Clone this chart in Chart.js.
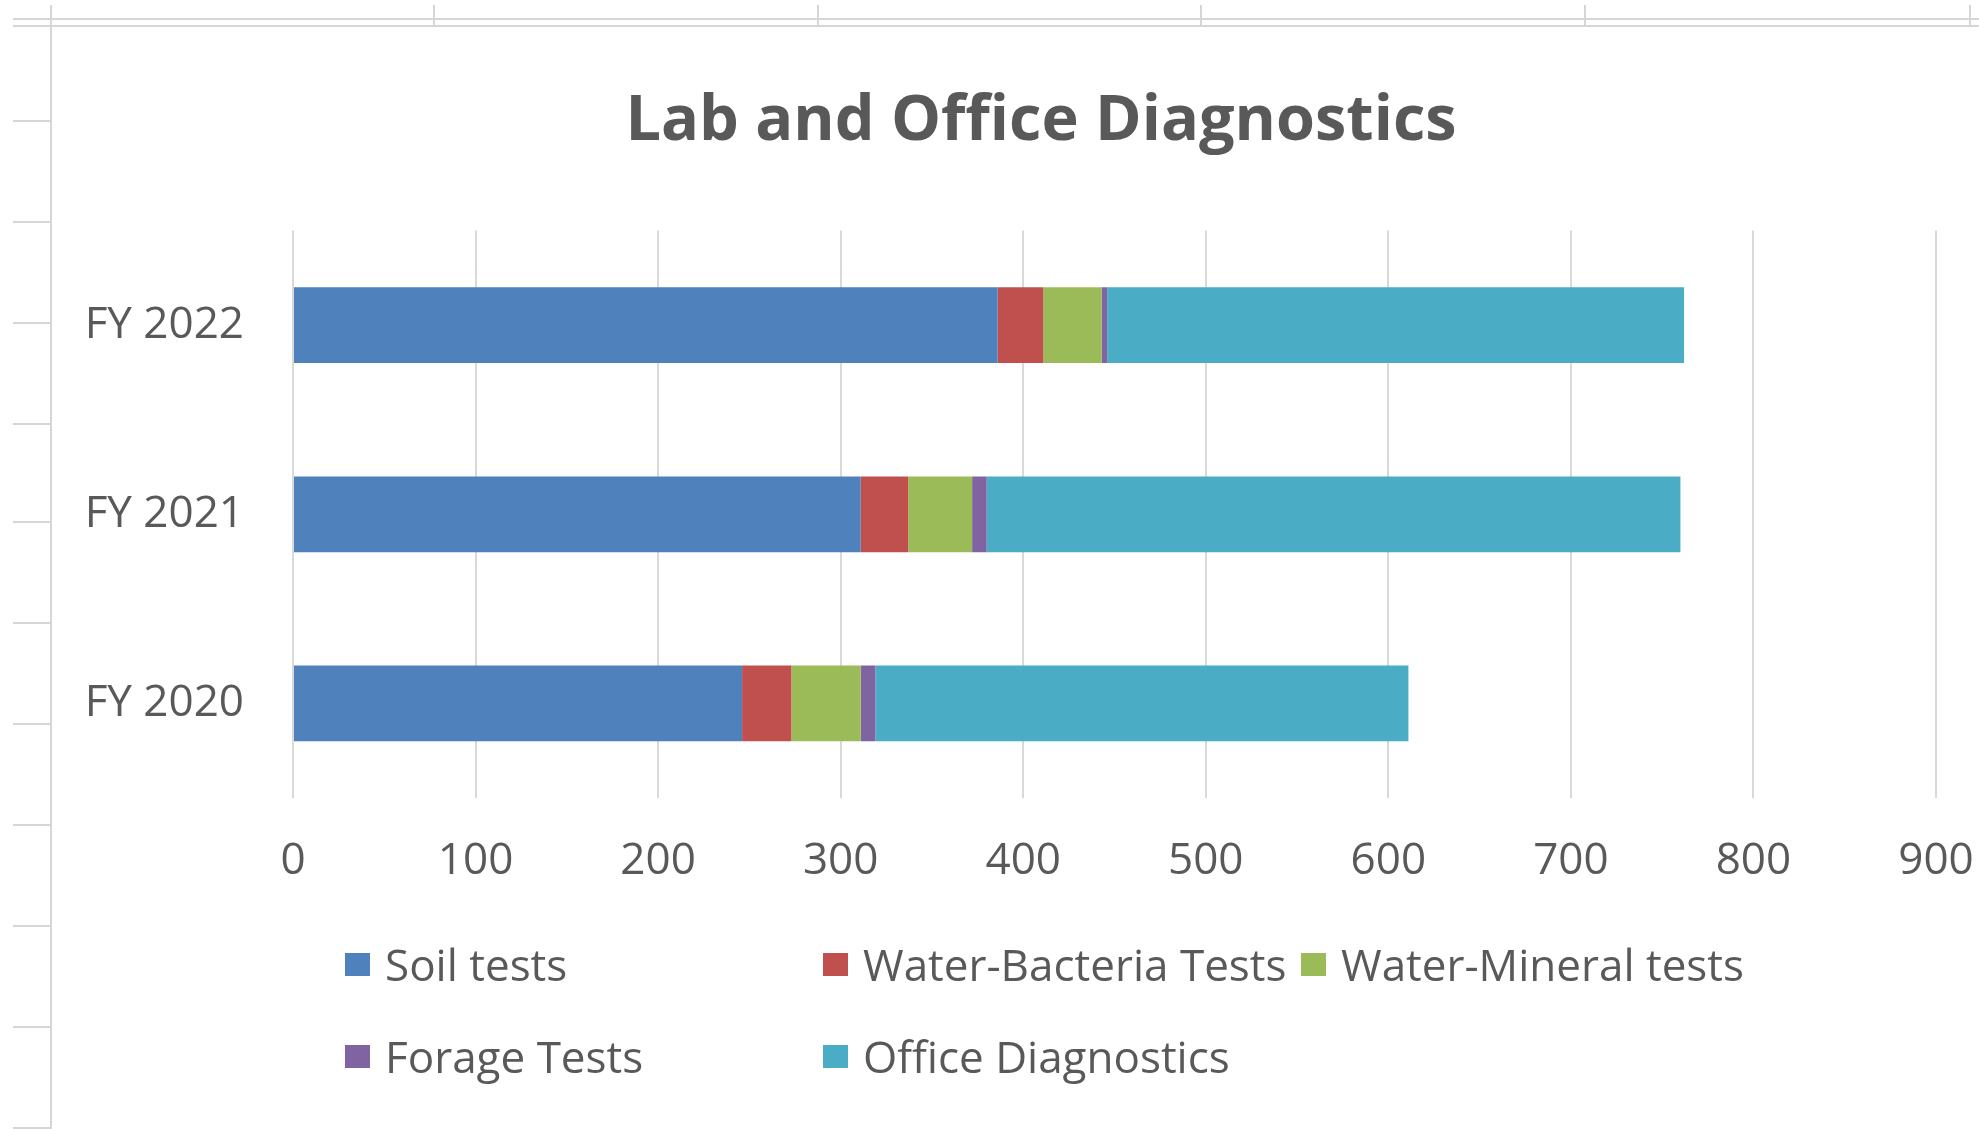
<!DOCTYPE html>
<html>
<head>
<meta charset="utf-8">
<title>Lab and Office Diagnostics</title>
<script src="https://cdn.jsdelivr.net/npm/chart.js@4.4.0/dist/chart.umd.min.js"></script>
<style>
    html, body { margin: 0; padding: 0; background: #fff; }
    #wrap { position: relative; width: 1979px; height: 1129px; overflow: hidden; font-family: "Open Sans", sans-serif; }
    #chart { position: absolute; left: 0; top: 0; }
    .line { position: absolute; background: #d6d6d6; }
    #legend { position: absolute; left: 345px; top: 939px; display: grid; grid-template-columns: 478px 478px 478px; grid-auto-rows: 92px; }
    .item { display: flex; align-items: center; height: 50px; font-size: 44px; color: #595959; white-space: nowrap; }
    .box { width: 25px; height: 23px; margin-right: 15px; flex: none; }
</style>
</head>
<body>
<div id="wrap">
    <canvas id="chart" width="2032" height="1129"></canvas>
    <div id="legend"></div>
</div>
<script>
// data
const years = ['FY 2020', 'FY 2021', 'FY 2022'];
const soilTests = [246, 311, 386];
const waterBacteriaTests = [27, 26, 25];
const waterMineralTests = [38, 35, 32];
const forageTests = [8, 8, 3];
const officeDiagnostics = [292, 380, 316];
const xMax = 900;
const xStep = 100;

const textColor = '#595959';
const fontName = '"Open Sans", sans-serif';

// spreadsheet cell lines around the chart box
function drawSheetLines() {
    const wrap = document.getElementById('wrap');
    function addLine(x, y, w, h) {
        const d = document.createElement('div');
        d.className = 'line';
        d.style.left = x + 'px';
        d.style.top = y + 'px';
        d.style.width = w + 'px';
        d.style.height = h + 'px';
        wrap.appendChild(d);
    }
    addLine(13, 18, 1966, 2);
    addLine(13, 25, 1966, 2);
    addLine(50, 5, 2, 1124);
    [433, 817, 1200, 1584, 1969].forEach(function (x) { addLine(x, 5, 2, 20); });
    [120, 221, 322, 423, 521, 622, 723, 824, 925, 1026, 1127].forEach(function (y) { addLine(13, y, 37, 2); });
}

function buildLegend(chart) {
    const legend = document.getElementById('legend');
    // Excel puts the legend in columns: row 1 has three items, row 2 two
    chart.data.datasets.forEach(function (ds) {
        const item = document.createElement('div');
        item.className = 'item';
        const box = document.createElement('span');
        box.className = 'box';
        box.style.background = ds.backgroundColor;
        item.appendChild(box);
        item.appendChild(document.createTextNode(ds.label));
        legend.appendChild(item);
    });
}

drawSheetLines();

const ctx = document.getElementById('chart');
const myChart = new Chart(ctx, {
    type: 'bar',
    data: {
        labels: years,
        datasets: [{
            label: 'Soil tests',
            data: soilTests,
            backgroundColor: '#4f81bd'
        }, {
            label: 'Water-Bacteria Tests',
            data: waterBacteriaTests,
            backgroundColor: '#c0504d'
        }, {
            label: 'Water-Mineral tests',
            data: waterMineralTests,
            backgroundColor: '#9bbb59'
        }, {
            label: 'Forage Tests',
            data: forageTests,
            backgroundColor: '#8064a2'
        }, {
            label: 'Office Diagnostics',
            data: officeDiagnostics,
            backgroundColor: '#4bacc6'
        }]
    },
    options: {
        indexAxis: 'y',
        responsive: false,
        animation: false,
        devicePixelRatio: 1,
        barPercentage: 0.4,
        categoryPercentage: 1.0,
        layout: {
            // canvas is a bit wider than the page so the title centre lands where Excel put it
            padding: { left: 60, right: 10, top: 0, bottom: 231 }
        },
        plugins: {
            title: {
                display: true,
                text: 'Lab and Office Diagnostics',
                color: textColor,
                font: { family: fontName, size: 63, weight: 'bold' },
                padding: { top: 84, bottom: 71 }
            },
            legend: { display: false },
            tooltip: { enabled: false }
        },
        scales: {
            x: {
                stacked: true,
                min: 0,
                max: xMax,
                ticks: {
                    stepSize: xStep,
                    color: textColor,
                    padding: 37,
                    font: { family: fontName, size: 44 }
                },
                grid: { color: '#d9d9d9', lineWidth: 2, drawTicks: false },
                border: { display: false },
                afterFit: function (scale) {
                    scale.height = 100;
                    scale.paddingRight = 96;
                }
            },
            y: {
                stacked: true,
                reverse: true,
                ticks: {
                    color: textColor,
                    padding: 49,
                    font: { family: fontName, size: 44 }
                },
                grid: { display: false, drawTicks: false },
                border: { display: false },
                afterFit: function (scale) { scale.width = 233; }
            }
        }
    }
});

buildLegend(myChart);
</script>
</body>
</html>
